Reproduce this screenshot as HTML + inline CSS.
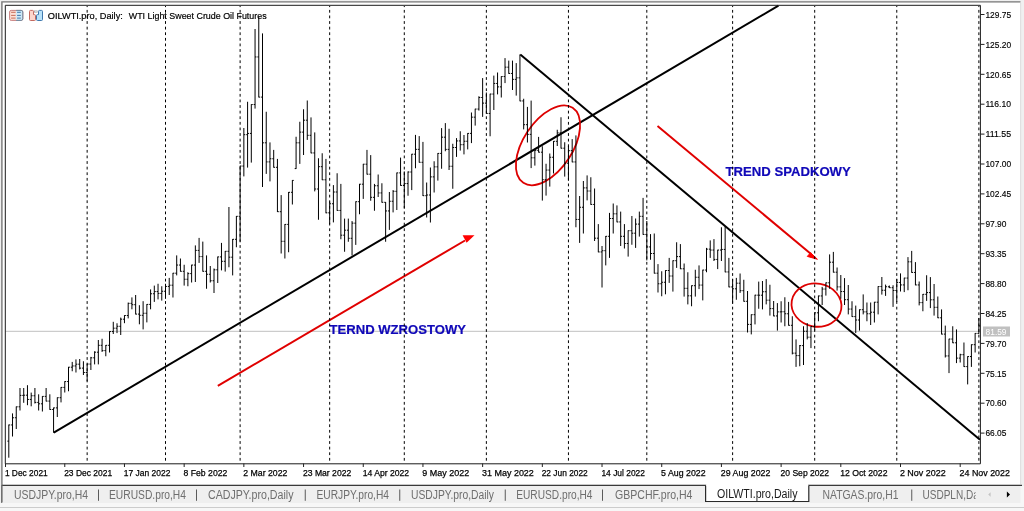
<!DOCTYPE html>
<html><head><meta charset="utf-8"><title>OILWTI.pro, Daily</title>
<style>html,body{margin:0;padding:0;background:#f0f0f0;overflow:hidden;} svg{display:block;}</style>
</head><body>
<svg width="1024" height="511" viewBox="0 0 1024 511">
<defs><clipPath id="clipP"><rect x="900" y="480" width="75.6" height="30"/></clipPath></defs>
<rect x="0" y="0" width="1024" height="511" fill="#f0f0f0"/><rect x="2" y="2.5" width="1018.5" height="482" fill="#ffffff"/><path d="M1.9 503 V1.9 H1020.5" fill="none" stroke="#777" stroke-width="1.4"/><path d="M1020.7 3 V484" fill="none" stroke="#dcdcdc" stroke-width="1"/>
<path d="M5.5 331.3 H980" stroke="#c0c0c0" stroke-width="1" fill="none"/>
<path d="M53.75 432.6 L778.5 5.6" stroke="#000" stroke-width="2" fill="none"/><path d="M520.3 54.4 L980 439.7" stroke="#000" stroke-width="2" fill="none"/><path d="M217.8 385.9 L465 240.5" stroke="#e00000" stroke-width="2" fill="none"/><path d="M462.6 235.3 L474.5 235.3 L466.6 242.8 Z" fill="#ff0000"/><path d="M657.5 126 L811 254" stroke="#e00000" stroke-width="2" fill="none"/><path d="M807.3 256.4 L810.6 252.7 L817.4 259.25 Z" fill="#ff0000" stroke="#ff0000" stroke-width="1"/><ellipse cx="548" cy="145.3" rx="44.9" ry="24.6" transform="rotate(-56.7 548 145.3)" fill="none" stroke="#dd0000" stroke-width="1.8"/><ellipse cx="816.5" cy="305.1" rx="25.1" ry="21.5" transform="rotate(10 816.5 305.1)" fill="none" stroke="#dd0000" stroke-width="1.8"/><text x="329.5" y="333.6" font-family="Liberation Sans, Arial, sans-serif" font-weight="bold" font-size="13.5" fill="#1008b8" stroke="#1008b8" stroke-width="0.2" textLength="136.5" lengthAdjust="spacingAndGlyphs">TERND WZROSTOWY</text><text x="725.5" y="175.9" font-family="Liberation Sans, Arial, sans-serif" font-weight="bold" font-size="13.5" fill="#1008b8" stroke="#1008b8" stroke-width="0.2" textLength="125.3" lengthAdjust="spacingAndGlyphs">TREND SPADKOWY</text>
<g font-family="Liberation Sans, Arial, sans-serif" font-size="9.6" fill="#000" stroke="#000" stroke-width="0.2"><text x="47.8" y="18.8" textLength="75" lengthAdjust="spacingAndGlyphs">OILWTI.pro, Daily:</text><text x="128.8" y="18.8" textLength="137.8" lengthAdjust="spacingAndGlyphs">WTI Light Sweet Crude Oil Futures</text></g><g><rect x="9.6" y="10.4" width="13.2" height="10" rx="1.6" fill="#fde0d6" stroke="#c98080" stroke-width="1"/><path d="M16.2 10.9 h6.1 v9 h-6.1 z" fill="#cde9f8"/><path d="M16.2 10.4 h5 a1.6 1.6 0 0 1 1.6 1.6 v6.8 a1.6 1.6 0 0 1 -1.6 1.6 h-5" fill="none" stroke="#6b8ca3" stroke-width="1"/><path d="M11.1 12.3h4.5M11.1 15.4h4.5M11.1 18.1h4.5" stroke="#c0604a" stroke-width="0.9"/><path d="M17.1 12.3h3.7M17.1 15.4h3.7M17.1 18.1h3.7" stroke="#2f6aa0" stroke-width="0.9"/></g><g><path d="M29.5 11.4 a1 1 0 0 1 1 -1 h2 a1 1 0 0 1 1 1 v3.2 h1 a1 1 0 0 1 1 1 v3.9 a1 1 0 0 1 -1 1 h-4 a1 1 0 0 1 -1 -1 z" fill="#fdd6cc" stroke="#c46a60" stroke-width="1"/><path d="M42.5 11.4 a1 1 0 0 0 -1 -1 h-2 a1 1 0 0 0 -1 1 v3.2 h-1 a1 1 0 0 0 -1 1 v3.9 a1 1 0 0 0 1 1 h4 a1 1 0 0 0 1 -1 z" fill="#b8e2fa" stroke="#3f78ad" stroke-width="1"/><rect x="34.4" y="10.9" width="2.8" height="1.3" fill="none" stroke="#a0a0a0" stroke-width="0.7"/></g>
<path d="M87.15 6V463 M165.5 6V463 M240.12 6V463 M329.67 6V463 M404.29 6V463 M486.37 6V463 M568.45 6V463 M646.8 6V463 M732.61 6V463 M814.7 6V463 M896.78 6V463 M978.86 6V463" fill="none" stroke="#000" stroke-width="1" stroke-dasharray="2.8 2.8" stroke-dashoffset="1.7"/>
<path d="M8.8 424.6V457.7M7.4 441.15H8.8M8.8 424.95H10.2M12.53 413.4V436.5M11.13 424.95H12.53M12.53 417.75H13.93M16.26 406.5V429M14.86 417.75H16.26M16.26 406.8H17.66M19.99 388V410.5M18.59 406.8H19.99M19.99 395.4H21.39M23.72 388V402.8M22.32 395.4H23.72M23.72 395.2H25.12M27.46 385.2V405.2M26.06 395.2H27.46M27.46 399.45H28.86M31.19 392.6V406.3M29.79 399.45H31.19M31.19 395.75H32.59M34.92 388V403.5M33.52 395.75H34.92M34.92 402.4H36.32M38.65 394.3V410.5M37.25 402.4H38.65M38.65 403.8H40.05M42.38 396.1V411.5M40.98 403.8H42.38M42.38 396.4H43.78M46.11 388V401.4M44.71 396.4H46.11M46.11 401.1H47.51M49.84 394.3V409.8M48.44 401.1H49.84M49.84 409.5H51.24M53.57 407.6V432.75M52.17 409.5H53.57M53.57 407.9H54.97M57.3 397.4V417M55.9 407.9H57.3M57.3 397.7H58.7M61.03 387.1V402.4M59.63 397.7H61.03M61.03 387.4H62.43M64.77 381.25V392.5M63.37 387.4H64.77M64.77 381.55H66.17M68.5 366.9V391.25M67.1 381.55H68.5M68.5 367.2H69.9M72.23 361.9V371.25M70.83 367.2H72.23M72.23 365.95H73.63M75.96 359.4V372.5M74.56 365.95H75.96M75.96 364.2H77.36M79.69 359V369.4M78.29 364.2H79.69M79.69 368.12H81.09M83.42 361.25V375M82.02 368.12H83.42M83.42 372.5H84.82M87.15 363.75V381.25M85.75 372.5H87.15M87.15 364.05H88.55M90.88 356.9V370M89.48 364.05H90.88M90.88 357.82H92.28M94.61 351.25V364.4M93.21 357.82H94.61M94.61 352.2H96.01M98.34 340V364.4M96.94 352.2H98.34M98.34 345.32H99.74M102.07 338.75V351.9M100.67 345.32H102.07M102.07 350.62H103.47M105.81 345V356.25M104.41 350.62H105.81M105.81 345.3H107.21M109.54 331.25V352.5M108.14 345.3H109.54M109.54 331.55H110.94M113.27 321.8V334M111.87 331.55H113.27M113.27 328.18H114.67M117 323.25V333.1M115.6 328.18H117M117 326.3H118.4M120.73 317.6V335M119.33 326.3H120.73M120.73 319.2H122.13M124.46 315.2V323.2M123.06 319.2H124.46M124.46 315.5H125.86M128.19 302.6V318.4M126.79 315.5H128.19M128.19 303.35H129.59M131.92 297.4V309.3M130.52 303.35H131.92M131.92 304.7H133.32M135.65 295V314.4M134.25 304.7H135.65M135.65 314.1H137.05M139.39 305.2V324.3M137.99 314.1H139.39M139.39 315.3H140.79M143.12 301.2V329.4M141.72 315.3H143.12M143.12 313.25H144.52M146.85 304.1V322.4M145.45 313.25H146.85M146.85 304.4H148.25M150.58 289.4V309.3M149.18 304.4H150.58M150.58 293.75H151.98M154.31 285.6V301.9M152.91 293.75H154.31M154.31 291.57H155.71M158.04 283.75V299.4M156.64 291.57H158.04M158.04 293.43H159.44M161.77 286.25V300.6M160.37 293.43H161.77M161.77 291.25H163.17M165.5 283.75V298.75M164.1 291.25H165.5M165.5 286.45H166.9M169.23 277.9V295M167.83 286.45H169.23M169.23 285.2H170.63M172.96 272.9V297.5M171.56 285.2H172.96M172.96 273.2H174.36M176.69 255.4V275.4M175.29 273.2H176.69M176.69 265.05H178.09M180.43 258.5V271.6M179.03 265.05H180.43M180.43 271.3H181.83M184.16 264.75V285.6M182.76 271.3H184.16M184.16 279.25H185.56M187.89 272.25V286.25M186.49 279.25H187.89M187.89 273.62H189.29M191.62 264.75V282.5M190.22 273.62H191.62M191.62 265.05H193.02M195.35 245.4V282M193.95 265.05H195.35M195.35 250.4H196.75M199.08 237.9V262.9M197.68 250.4H199.08M199.08 256.6H200.48M202.81 241.6V271.6M201.41 256.6H202.81M202.81 271.3H204.21M206.54 255.4V288.75M205.14 271.3H206.54M206.54 274.25H207.94M210.27 266V282.5M208.87 274.25H210.27M210.27 280.75H211.67M214 268.5V293M212.6 280.75H214M214 269.8H215.41M217.74 256.6V283M216.34 269.8H217.74M217.74 256.9H219.14M221.47 242.9V270.4M220.07 256.9H221.47M221.47 261.3H222.87M225.2 251V271.6M223.8 261.3H225.2M225.2 251.3H226.6M228.93 207V267.25M227.53 251.3H228.93M228.93 257.2H230.33M232.66 239V275.4M231.26 257.2H232.66M232.66 239.3H234.06M236.39 216V247.25M234.99 239.3H236.39M236.39 216.3H237.79M240.12 165.75V241.6M238.72 216.3H240.12M240.12 166.05H241.52M243.85 128V176.4M242.45 166.05H243.85M243.85 134.68H245.25M247.58 101.75V167.6M246.18 134.68H247.58M247.58 133.43H248.98M251.31 104.25V162.6M249.91 133.43H251.31M251.31 104.55H252.72M255.05 29V108.6M253.65 104.55H255.05M255.05 56.95H256.45M258.78 16.5V97.4M257.38 56.95H258.78M258.78 97.1H260.18M262.51 33.4V187M261.11 97.1H262.51M262.51 142.82H263.91M266.24 111.75V173.9M264.84 142.82H266.24M266.24 161.9H267.64M269.97 142.4V181.4M268.57 161.9H269.97M269.97 158.75H271.37M273.7 149.9V167.6M272.3 158.75H273.7M273.7 167.3H275.1M277.43 158.9V212M276.03 167.3H277.43M277.43 211.7H278.83M281.16 195.1V253.5M279.76 211.7H281.16M281.16 241.3H282.56M284.89 224.1V258.5M283.49 241.3H284.89M284.89 224.4H286.29M288.62 192V252.25M287.23 224.4H288.62M288.62 192.3H290.02M292.36 180.1V204.5M290.96 192.3H292.36M292.36 180.4H293.76M296.09 136.75V168.9M294.69 168.6H296.09M296.09 142.82H297.49M299.82 121.75V163.9M298.42 142.82H299.82M299.82 132.12H301.22M303.55 109.25V155M302.15 132.12H303.55M303.55 120.2H304.95M307.28 100.5V139.9M305.88 120.2H307.28M307.28 135.32H308.68M311.01 117.4V153.25M309.61 135.32H311.01M311.01 152.95H312.41M314.74 132.4V191.4M313.34 152.95H314.74M314.74 189H316.14M318.47 158.25V219.75M317.07 189H318.47M318.47 166.68H319.87M322.2 153.25V180.1M320.8 166.68H322.2M322.2 179.8H323.6M325.94 158.9V213.25M324.54 179.8H325.94M325.94 212.82H327.33M329.67 201.4V224.25M328.27 212.82H329.67M329.67 203.75H331.07M333.4 185.1V222.4M332 203.75H333.4M333.4 192H334.8M337.13 173.25V210.75M335.73 192H337.13M337.13 210.45H338.53M340.86 183.9V239.25M339.46 210.45H340.86M340.86 235.18H342.26M344.59 218.6V251.75M343.19 235.18H344.59M344.59 230.18H345.99M348.32 218.6V241.75M346.92 230.18H348.32M348.32 238.3H349.72M352.05 221.1V255.5M350.65 238.3H352.05M352.05 223.15H353.45M355.78 201.4V244.9M354.38 223.15H355.78M355.78 201.7H357.18M359.51 183.9V214.25M358.11 201.7H359.51M359.51 184.2H360.91M363.25 163.9V198.9M361.85 184.2H363.25M363.25 164.2H364.64M366.98 149.9V174.5M365.58 164.2H366.98M366.98 174.2H368.38M370.71 155.1V200.75M369.31 174.2H370.71M370.71 197.32H372.11M374.44 183.9V210.75M373.04 197.32H374.44M374.44 185.75H375.84M378.17 174.5V197M376.77 185.75H378.17M378.17 192.93H379.57M381.9 183.25V202.6M380.5 192.93H381.9M381.9 202.3H383.3M385.63 202V241.75M384.23 202.3H385.63M385.63 210.95H387.03M389.36 192V229.9M387.96 210.95H389.36M389.36 201.25H390.76M393.09 190.1V212.4M391.69 201.25H393.09M393.09 191.3H394.49M396.82 172.6V210M395.42 191.3H396.82M396.82 172.9H398.22M400.56 157.6V185.75M399.16 172.9H400.56M400.56 185.45H401.95M404.29 171.4V208.25M402.89 185.45H404.29M404.29 183.57H405.69M408.02 171.4V195.75M406.62 183.57H408.02M408.02 172H409.42M411.75 153.9V190.1M410.35 172H411.75M411.75 154.2H413.15M415.48 134.9V168.25M414.08 154.2H415.48M415.48 149.35H416.88M419.21 136.1V162.6M417.81 149.35H419.21M419.21 162.3H420.61M422.94 141.9V196M421.54 162.3H422.94M422.94 195.7H424.34M426.67 182.5V217.5M425.27 195.7H426.67M426.67 195H428.07M430.4 167.5V222.5M429 195H430.4M430.4 176.88H431.8M434.13 161.25V192.5M432.73 176.88H434.13M434.13 166.85H435.53M437.87 153.1V180.6M436.47 166.85H437.87M437.87 153.4H439.26M441.6 128.1V168.75M440.2 153.4H441.6M441.6 137.18H443M445.33 123.1V151.25M443.93 137.18H445.33M445.33 149.38H446.73M449.06 128.75V170M447.66 149.38H449.06M449.06 166.25H450.46M452.79 143.75V188.75M451.39 166.25H452.79M452.79 147.5H454.19M456.52 138.1V156.9M455.12 147.5H456.52M456.52 140.93H457.92M460.25 131.25V150.6M458.85 140.93H460.25M460.25 144.7H461.65M463.98 135V154.4M462.58 144.7H463.98M463.98 141.25H465.38M467.71 133.1V149.4M466.31 141.25H467.71M467.71 133.4H469.11M471.44 112.5V143.1M470.04 133.4H471.44M471.44 117.17H472.84M475.18 108.75V125.6M473.78 117.17H475.18M475.18 109.05H476.57M478.91 96.25V110.6M477.51 109.05H478.91M478.91 97.5H480.31M482.64 78.1V116.9M481.24 97.5H482.64M482.64 103.12H484.04M486.37 92.5V113.75M484.97 103.12H486.37M486.37 113.45H487.77M490.1 93.75V136.25M488.7 113.45H490.1M490.1 94.05H491.5M493.83 75.6V110M492.43 94.05H493.83M493.83 83.45H495.23M497.56 72.5V94.4M496.16 83.45H497.56M497.56 86.88H498.96M501.29 76.25V97.5M499.89 86.88H501.29M501.29 76.55H502.69M505.02 58.1V83.1M503.62 76.55H505.02M505.02 67.17H506.42M508.75 60.6V73.75M507.35 67.17H508.75M508.75 73.45H510.15M512.49 60.6V90M511.09 73.45H512.49M512.49 79.35H513.88M516.22 63.1V95.6M514.82 79.35H516.22M516.22 77.83H517.62M519.95 54.4V101.25M518.55 77.83H519.95M519.95 100.95H521.35M523.68 98.75V129.4M522.28 100.95H523.68M523.68 124.7H525.08M527.41 106.9V142.5M526.01 124.7H527.41M527.41 134.35H528.81M531.14 100.6V168.1M529.74 134.35H531.14M531.14 157.8H532.54M534.87 150V165.6M533.47 157.8H534.87M534.87 150.3H536.27M538.6 136.9V152.5M537.2 150.3H538.6M538.6 152.2H540M542.33 146.25V200.6M540.93 152.2H542.33M542.33 179.68H543.73M546.06 163.75V195.6M544.66 179.68H546.06M546.06 170.05H547.46M549.79 153.5V186.6M548.39 170.05H549.79M549.79 157.25H551.19M553.53 141V173.5M552.13 157.25H553.53M553.53 141.3H554.93M557.26 129.75V146M555.86 141.3H557.26M557.26 132.88H558.66M560.99 117.25V148.5M559.59 132.88H560.99M560.99 148.2H562.39M564.72 142.25V176.6M563.32 148.2H564.72M564.72 163.2H566.12M568.45 146V180.4M567.05 163.2H568.45M568.45 150.68H569.85M572.18 139.1V162.25M570.78 150.68H572.18M572.18 161.95H573.58M575.91 135.4V227.25M574.51 161.95H575.91M575.91 219.45H577.31M579.64 196V242.9M578.24 219.45H579.64M579.64 207.25H581.04M583.37 181V233.5M581.97 207.25H583.37M583.37 187.9H584.77M587.1 175.4V200.4M585.7 187.9H587.1M587.1 191H588.5M590.84 177.25V204.75M589.44 191H590.84M590.84 204.45H592.24M594.57 188.5V241M593.17 204.45H594.57M594.57 238.18H595.97M598.3 224.1V252.25M596.9 238.18H598.3M598.3 251.95H599.7M602.03 246V287.5M600.63 251.95H602.03M602.03 250.7H603.43M605.76 236V265.4M604.36 250.7H605.76M605.76 236.3H607.16M609.49 212.9V257.9M608.09 236.3H609.49M609.49 218.5H610.89M613.22 203.5V233.5M611.82 218.5H613.22M613.22 213.82H614.62M616.95 205.4V222.25M615.55 213.82H616.95M616.95 221.95H618.35M620.68 211.6V246M619.28 221.95H620.68M620.68 236.3H622.08M624.41 224.1V248.5M623.01 236.3H624.41M624.41 243.5H625.81M628.15 230.4V256.6M626.75 243.5H628.15M628.15 230.7H629.55M631.88 216V244.75M630.48 230.7H631.88M631.88 233.2H633.28M635.61 218.5V247.9M634.21 233.2H635.61M635.61 224.1H637.01M639.34 211.6V236.6M637.94 224.1H639.34M639.34 216.32H640.74M643.07 197.9V234.75M641.67 216.32H643.07M643.07 234.45H644.47M646.8 221V260.4M645.4 234.45H646.8M646.8 246.93H648.2M650.53 234.1V259.75M649.13 246.93H650.53M650.53 253.5H651.93M654.26 233.5V273.5M652.86 253.5H654.26M654.26 273.2H655.66M657.99 264.1V292.5M656.59 273.2H657.99M657.99 283.75H659.39M661.72 271.25V296.25M660.32 283.75H661.72M661.72 282.25H663.12M665.46 270.2V294.3M664.06 282.25H665.46M665.46 270.5H666.86M669.19 257.9V282.9M667.79 270.5H669.19M669.19 276H670.59M672.92 260.4V291.6M671.52 276H672.92M672.92 260.7H674.32M676.65 242.25V267.9M675.25 260.7H676.65M676.65 256.6H678.05M680.38 244.1V269.1M678.98 256.6H680.38M680.38 268.8H681.78M684.11 263.5V296.6M682.71 268.8H684.11M684.11 288.32H685.51M687.84 272.25V304.4M686.44 288.32H687.84M687.84 295.82H689.24M691.57 285.4V306.25M690.17 295.82H691.57M691.57 285.7H692.97M695.3 269.75V296.6M693.9 285.7H695.3M695.3 277.25H696.7M699.03 265.4V289.1M697.63 277.25H699.03M699.03 285.07H700.43M702.77 269.75V300.4M701.37 285.07H702.77M702.77 270.05H704.17M706.5 247.9V272.25M705.1 270.05H706.5M706.5 249.15H707.9M710.23 240.4V257.9M708.83 249.15H710.23M710.23 250.05H711.63M713.96 239.1V261M712.56 250.05H713.96M713.96 259.43H715.36M717.69 249.75V269.1M716.29 259.43H717.69M717.69 250.05H719.09M721.42 227.25V261M720.02 250.05H721.42M721.42 249.43H722.82M725.15 226.6V272.25M723.75 249.43H725.15M725.15 271.95H726.55M728.88 257.9V287.25M727.48 271.95H728.88M728.88 286.95H730.28M732.61 279.1V303.5M731.21 286.95H732.61M732.61 288.82H734.01M736.34 277.9V299.75M734.94 288.82H736.34M736.34 283.2H737.74M740.08 273.5V292.9M738.68 283.2H740.08M740.08 290.68H741.48M743.81 279.75V301.6M742.41 290.68H743.81M743.81 301.3H745.21M747.54 291V332.5M746.14 301.3H747.54M747.54 324.4H748.94M751.27 314.4V334.4M749.87 324.4H751.27M751.27 314.7H752.67M755 294.75V324.4M753.6 314.7H755M755 295.18H756.4M758.73 281.6V308.75M757.33 295.18H758.73M758.73 295.2H760.13M762.46 281V309.4M761.06 295.2H762.46M762.46 291.75H763.86M766.19 279.1V304.4M764.79 291.75H766.19M766.19 300.18H767.59M769.92 284.75V315.6M768.52 300.18H769.92M769.92 308.62H771.32M773.65 301V316.25M772.25 308.62H773.65M773.65 315.95H775.05M777.39 303.1V330.6M775.99 315.95H777.39M777.39 311.88H778.79M781.12 301.25V322.5M779.72 311.88H781.12M781.12 311.75H782.52M784.85 297.25V326.25M783.45 311.75H784.85M784.85 313.75H786.25M788.58 301.9V325.6M787.18 313.75H788.58M788.58 325.3H789.98M792.31 316.25V354.4M790.91 325.3H792.31M792.31 353.15H793.71M796.04 339.4V366.9M794.64 353.15H796.04M796.04 355.62H797.44M799.77 345V366.25M798.37 355.62H799.77M799.77 345.62H801.17M803.5 326.25V365M802.1 345.62H803.5M803.5 331.25H804.9M807.23 323.1V339.4M805.83 331.25H807.23M807.23 337.18H808.63M810.96 326.25V348.1M809.56 337.18H810.96M810.96 326.55H812.36M814.7 312.5V330.6M813.3 326.55H814.7M814.7 312.8H816.1M818.43 295.6V321.25M817.03 312.8H818.43M818.43 295.95H819.83M822.16 286.9V305M820.76 295.95H822.16M822.16 289.05H823.56M825.89 282.5V295.6M824.49 289.05H825.89M825.89 282.8H827.29M829.62 254.4V288.75M828.22 282.8H829.62M829.62 262.2H831.02M833.35 251.9V272.5M831.95 262.2H833.35M833.35 272.2H834.75M837.08 267.5V290.6M835.68 272.2H837.08M837.08 286.88H838.48M840.81 275V298.75M839.41 286.88H840.81M840.81 291.55H842.21M844.54 278.1V305M843.14 291.55H844.54M844.54 299.7H845.94M848.27 285V314.4M846.88 299.7H848.27M848.27 309.07H849.67M852.01 301.25V316.9M850.61 309.07H852.01M852.01 316.6H853.41M855.74 305.6V333.1M854.34 316.6H855.74M855.74 320H857.14M859.47 309.4V330.6M858.07 320H859.47M859.47 309.7H860.87M863.2 294.4V314.4M861.8 309.7H863.2M863.2 311.88H864.6M866.93 302.5V321.25M865.53 311.88H866.93M866.93 313.75H868.33M870.66 302.5V325M869.26 313.75H870.66M870.66 312.2H872.06M874.39 301.9V322.5M872.99 312.2H874.39M874.39 302.2H875.79M878.12 286.25V314.4M876.72 302.2H878.12M878.12 286.55H879.52M881.85 277V294.6M880.45 286.55H881.85M881.85 290.25H883.25M885.58 284.6V295.9M884.18 290.25H885.58M885.58 286.75H886.98M889.32 285.5V288M887.92 286.75H889.32M889.32 287.7H890.72M893.05 285.25V306.9M891.65 287.7H893.05M893.05 290.5H894.45M896.78 279V302M895.38 290.5H896.78M896.78 282.45H898.18M900.51 273.4V291.5M899.11 282.45H900.51M900.51 284.93H901.91M904.24 277.75V292.1M902.84 284.93H904.24M904.24 278.05H905.64M907.97 257.1V290.25M906.57 278.05H907.97M907.97 261.82H909.37M911.7 250.9V272.75M910.3 261.82H911.7M911.7 272.45H913.1M915.43 262.1V285.25M914.03 272.45H915.43M915.43 284.95H916.83M919.16 281.5V305.4M917.76 284.95H919.16M919.16 302.62H920.56M922.89 294V311.25M921.49 302.62H922.89M922.89 294.3H924.29M926.63 275.25V300.9M925.23 294.3H926.63M926.63 292.6H928.03M930.36 277.1V308.1M928.96 292.6H930.36M930.36 299.8H931.76M934.09 284V315.6M932.69 299.8H934.09M934.09 307.3H935.49M937.82 296.5V318.1M936.42 307.3H937.82M937.82 317.8H939.22M941.55 309.4V334.4M940.15 317.8H941.55M941.55 334.1H942.95M945.28 325.6V357.5M943.88 334.1H945.28M945.28 355.93H946.68M949.01 338.75V373.1M947.61 355.93H949.01M949.01 339.05H950.41M952.74 326.25V343.1M951.34 339.05H952.74M952.74 342.8H954.14M956.47 329.4V363.1M955.07 342.8H956.47M956.47 358.12H957.87M960.2 353.75V362.5M958.8 358.12H960.2M960.2 354.7H961.6M963.94 342.5V366.9M962.54 354.7H963.94M963.94 366.6H965.34M967.67 356.25V384.4M966.27 366.6H967.67M967.67 356.55H969.07M971.4 344.4V366.9M970 356.55H971.4M971.4 344.7H972.8M975.13 333.1V352.5M973.73 344.7H975.13M975.13 333.4H976.53M978.86 318.1V333.75M977.46 333.4H978.86M978.86 325.93H980.26" fill="none" stroke="#000" stroke-width="1"/>
<path d="M5.3 463.8 V5.3 H980.4 V463.8 Z" fill="none" stroke="#1a1a1a" stroke-width="1"/>
<path d="M5.5 463.5V467M64.77 463.5V467M124.46 463.5V467M184.16 463.5V467M243.85 463.5V467M303.55 463.5V467M363.25 463.5V467M422.94 463.5V467M482.64 463.5V467M542.33 463.5V467M602.03 463.5V467M661.72 463.5V467M721.42 463.5V467M781.12 463.5V467M840.81 463.5V467M900.51 463.5V467M960.2 463.5V467" stroke="#222" stroke-width="1" fill="none"/><g font-family="Liberation Sans, Arial, sans-serif" font-size="9.5" fill="#000" stroke="#000" stroke-width="0.25"><text x="4.9" y="475.6" textLength="42.8" lengthAdjust="spacingAndGlyphs">1 Dec 2021</text><text x="64.17" y="475.6" textLength="48.05" lengthAdjust="spacingAndGlyphs">23 Dec 2021</text><text x="123.86" y="475.6" textLength="46.55" lengthAdjust="spacingAndGlyphs">17 Jan 2022</text><text x="183.56" y="475.6" textLength="43.8" lengthAdjust="spacingAndGlyphs">8 Feb 2022</text><text x="243.25" y="475.6" textLength="44.2" lengthAdjust="spacingAndGlyphs">2 Mar 2022</text><text x="302.95" y="475.6" textLength="48.3" lengthAdjust="spacingAndGlyphs">23 Mar 2022</text><text x="362.64" y="475.6" textLength="46.55" lengthAdjust="spacingAndGlyphs">14 Apr 2022</text><text x="422.34" y="475.6" textLength="46.8" lengthAdjust="spacingAndGlyphs">9 May 2022</text><text x="482.04" y="475.6" textLength="51.8" lengthAdjust="spacingAndGlyphs">31 May 2022</text><text x="541.73" y="475.6" textLength="46.05" lengthAdjust="spacingAndGlyphs">22 Jun 2022</text><text x="601.43" y="475.6" textLength="43.55" lengthAdjust="spacingAndGlyphs">14 Jul 2022</text><text x="661.12" y="475.6" textLength="44.55" lengthAdjust="spacingAndGlyphs">5 Aug 2022</text><text x="720.82" y="475.6" textLength="49.55" lengthAdjust="spacingAndGlyphs">29 Aug 2022</text><text x="780.52" y="475.6" textLength="48.55" lengthAdjust="spacingAndGlyphs">20 Sep 2022</text><text x="840.21" y="475.6" textLength="47.3" lengthAdjust="spacingAndGlyphs">12 Oct 2022</text><text x="899.91" y="475.6" textLength="45.8" lengthAdjust="spacingAndGlyphs">2 Nov 2022</text><text x="959.6" y="475.6" textLength="50.3" lengthAdjust="spacingAndGlyphs">24 Nov 2022</text></g>
<path d="M980.5 14.5H984.5M980.5 44.4H984.5M980.5 74.3H984.5M980.5 104.2H984.5M980.5 134.1H984.5M980.5 164H984.5M980.5 193.9H984.5M980.5 223.8H984.5M980.5 253.7H984.5M980.5 283.6H984.5M980.5 313.5H984.5M980.5 343.4H984.5M980.5 373.3H984.5M980.5 403.2H984.5M980.5 433.1H984.5" stroke="#222" stroke-width="1" fill="none"/><g font-family="Liberation Sans, Arial, sans-serif" font-size="9.5" fill="#000" stroke="#000" stroke-width="0.15"><text x="985.4" y="17.75" textLength="25.69" lengthAdjust="spacingAndGlyphs">129.75</text><text x="985.4" y="47.65" textLength="25.69" lengthAdjust="spacingAndGlyphs">125.20</text><text x="985.4" y="77.55" textLength="25.69" lengthAdjust="spacingAndGlyphs">120.65</text><text x="985.4" y="107.45" textLength="25.69" lengthAdjust="spacingAndGlyphs">116.10</text><text x="985.4" y="137.35" textLength="25.69" lengthAdjust="spacingAndGlyphs">111.55</text><text x="985.4" y="167.25" textLength="25.69" lengthAdjust="spacingAndGlyphs">107.00</text><text x="985.4" y="197.15" textLength="25.69" lengthAdjust="spacingAndGlyphs">102.45</text><text x="985.4" y="227.05" textLength="21.02" lengthAdjust="spacingAndGlyphs">97.90</text><text x="985.4" y="256.95" textLength="21.02" lengthAdjust="spacingAndGlyphs">93.35</text><text x="985.4" y="286.85" textLength="21.02" lengthAdjust="spacingAndGlyphs">88.80</text><text x="985.4" y="316.75" textLength="21.02" lengthAdjust="spacingAndGlyphs">84.25</text><text x="985.4" y="346.65" textLength="21.02" lengthAdjust="spacingAndGlyphs">79.70</text><text x="985.4" y="376.55" textLength="21.02" lengthAdjust="spacingAndGlyphs">75.15</text><text x="985.4" y="406.45" textLength="21.02" lengthAdjust="spacingAndGlyphs">70.60</text><text x="985.4" y="436.35" textLength="21.02" lengthAdjust="spacingAndGlyphs">66.05</text></g><rect x="983" y="326.5" width="27" height="10" fill="#c0c0c0"/><text x="985.6" y="334.8" font-family="Liberation Sans, Arial, sans-serif" font-size="9.4" fill="#ffffff" textLength="20.9" lengthAdjust="spacingAndGlyphs">81.59</text>
<rect x="2" y="485" width="1022" height="18" fill="#efefef"/><rect x="0" y="503" width="1024" height="8" fill="#f7f7f7"/><rect x="1020.5" y="486" width="3.5" height="25" fill="#f7f7f7"/><path d="M0 507.5 H1024" stroke="#cccccc" stroke-width="1"/><path d="M2 485.3 H1022" stroke="#3a3a3a" stroke-width="1.2"/><path d="M1.9 485 V502.5" stroke="#6a6a6a" stroke-width="1.4"/><path d="M705.6 502 V485.3 H808.8 V502" fill="#ffffff"/><path d="M705.6 485.3 V501.5 H808.8 V485.3" fill="none" stroke="#2a2a2a" stroke-width="1.2"/><rect x="706.2" y="484" width="102" height="2" fill="#ffffff"/><g font-family="Liberation Sans, Arial, sans-serif" font-size="12" fill="#6e6e6e"><text x="14" y="498.8" textLength="74" lengthAdjust="spacingAndGlyphs">USDJPY.pro,H4</text><text x="109" y="498.8" textLength="77" lengthAdjust="spacingAndGlyphs">EURUSD.pro,H4</text><text x="208" y="498.8" textLength="85.5" lengthAdjust="spacingAndGlyphs">CADJPY.pro,Daily</text><text x="316.5" y="498.8" textLength="72.5" lengthAdjust="spacingAndGlyphs">EURJPY.pro,H4</text><text x="411" y="498.8" textLength="83" lengthAdjust="spacingAndGlyphs">USDJPY.pro,Daily</text><text x="516.25" y="498.8" textLength="76.25" lengthAdjust="spacingAndGlyphs">EURUSD.pro,H4</text><text x="615" y="498.8" textLength="77.5" lengthAdjust="spacingAndGlyphs">GBPCHF.pro,H4</text><text x="822.5" y="498.8" textLength="76" lengthAdjust="spacingAndGlyphs">NATGAS.pro,H1</text><text x="922.5" y="498.8" textLength="56.3" lengthAdjust="spacingAndGlyphs" clip-path="url(#clipP)">USDPLN,Da</text></g><text x="717" y="498.4" font-family="Liberation Sans, Arial, sans-serif" font-size="12" fill="#1a1a1a" textLength="80.5" lengthAdjust="spacingAndGlyphs">OILWTI.pro,Daily</text><path d="M98.5 489.5V500.8M196.5 489.5V500.8M305.25 489.5V500.8M399.75 489.5V500.8M505.25 489.5V500.8M602.5 489.5V500.8M911.75 489.5V500.8" stroke="#5a5a5a" stroke-width="1"/><path d="M990.6 492.2 L988.2 494.5 L990.6 496.8 Z" fill="#c4c4c4"/><path d="M1006.9 491.4 L1010 494.5 L1006.9 497.6 Z" fill="#000"/>
</svg>
</body></html>
